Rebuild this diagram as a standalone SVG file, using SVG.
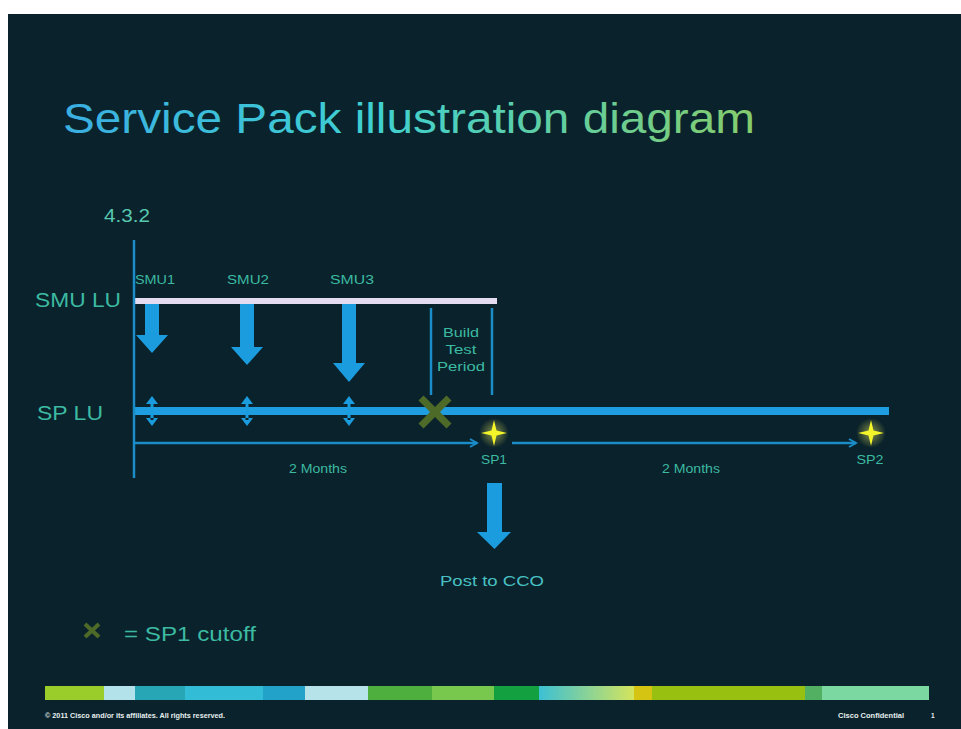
<svg xmlns="http://www.w3.org/2000/svg" width="961" height="729" viewBox="0 0 961 729">
  <defs>
    <linearGradient id="titleGrad" gradientUnits="userSpaceOnUse" x1="63" y1="0" x2="755" y2="0">
      <stop offset="0" stop-color="#3aaee2"/>
      <stop offset="0.45" stop-color="#3fd0d2"/>
      <stop offset="1" stop-color="#86cc6c"/>
    </linearGradient>
    <linearGradient id="barGrad" x1="0" y1="0" x2="1" y2="0">
      <stop offset="0" stop-color="#3cc0d4"/>
      <stop offset="1" stop-color="#d4e45c"/>
    </linearGradient>
    <radialGradient id="starGlow">
      <stop offset="0" stop-color="#ffff60" stop-opacity="0.5"/>
      <stop offset="1" stop-color="#ffff60" stop-opacity="0"/>
    </radialGradient>
    <marker id="chev" markerWidth="10" markerHeight="10" refX="8" refY="5" orient="auto" markerUnits="userSpaceOnUse">
      <path d="M1,1 L8,5 L1,9" fill="none" stroke="#1a8cc8" stroke-width="2"/>
    </marker>
  </defs>
  <style>
    .lbl { font-family: "Liberation Sans", Arial, sans-serif; fill: #3cbaa2; }
    .blue { fill: #1a9cde; }
    .thin { stroke: #1a8cc8; stroke-width: 2.5; fill: none; }
    .foot { font-family: "Liberation Sans", Arial, sans-serif; font-weight: bold; font-size: 6.5px; fill: #e8f0f0; }
    .xmark { stroke: #4e6a28; stroke-width: 7; stroke-linecap: butt; }
    .star { fill: #f4f42a; }
  </style>

  <rect x="0" y="0" width="961" height="729" fill="#ffffff"/>
  <rect x="8" y="14" width="953" height="715" fill="#0a222b"/>

  <g id="title">
    <text x="63" y="133" font-family="'Liberation Sans', Arial, sans-serif" font-size="43" fill="url(#titleGrad)" textLength="692" lengthAdjust="spacingAndGlyphs">Service Pack illustration diagram</text>
  </g>

  <g id="version">
    <text class="lbl" x="104" y="222" font-size="18" textLength="46" lengthAdjust="spacingAndGlyphs" style="fill:#58c8b0">4.3.2</text>
  </g>

  <g id="smu-lu">
    <text class="lbl" x="35" y="307" font-size="20" textLength="86" lengthAdjust="spacingAndGlyphs">SMU LU</text>
    <rect x="134" y="298" width="363" height="6" fill="#e6dcf2"/>
  </g>

  <g id="sp-lu">
    <text class="lbl" x="37" y="420" font-size="20" textLength="66" lengthAdjust="spacingAndGlyphs">SP LU</text>
    <rect x="134" y="407" width="755" height="8" fill="#1e9ee0"/>
  </g>

  <g id="smu1">
    <text class="lbl" x="135" y="284" font-size="12" textLength="40" lengthAdjust="spacingAndGlyphs">SMU1</text>
    <path class="blue" d="M145,304 H159 V335 H168 L152,353 L136,335 H145 Z"/>
    <path class="blue" d="M150.5,402 H153.5 V420 H150.5 Z M146,404 L152,396 L158,404 Z M146,418 L152,426 L158,418 Z"/>
  </g>
  <g id="smu2">
    <text class="lbl" x="227" y="284" font-size="12" textLength="42" lengthAdjust="spacingAndGlyphs">SMU2</text>
    <path class="blue" d="M240,304 H254 V347 H263 L247,365 L231,347 H240 Z"/>
    <path class="blue" d="M245.5,402 H248.5 V420 H245.5 Z M241,404 L247,396 L253,404 Z M241,418 L247,426 L253,418 Z"/>
  </g>
  <g id="smu3">
    <text class="lbl" x="330" y="284" font-size="12" textLength="44" lengthAdjust="spacingAndGlyphs">SMU3</text>
    <path class="blue" d="M342,304 H356 V363 H365 L349,382 L333,363 H342 Z"/>
    <path class="blue" d="M347.5,402 H350.5 V420 H347.5 Z M343,404 L349,396 L355,404 Z M343,418 L349,426 L355,418 Z"/>
  </g>

  <g id="build-test-period">
    <line x1="431" y1="308" x2="431" y2="395" stroke="#1a8cc8" stroke-width="2.5"/>
    <line x1="492" y1="308" x2="492" y2="395" stroke="#1a8cc8" stroke-width="2.5"/>
    <text class="lbl" x="461" y="337" font-size="13" text-anchor="middle" textLength="36" lengthAdjust="spacingAndGlyphs">Build</text>
    <text class="lbl" x="461" y="354" font-size="13" text-anchor="middle" textLength="31" lengthAdjust="spacingAndGlyphs">Test</text>
    <text class="lbl" x="461" y="371" font-size="13" text-anchor="middle" textLength="48" lengthAdjust="spacingAndGlyphs">Period</text>
  </g>

  <g id="sp1-cutoff">
    <line class="xmark" x1="421" y1="398" x2="449" y2="426"/>
    <line class="xmark" x1="449" y1="398" x2="421" y2="426"/>
  </g>

  <g id="sp1">
    <circle cx="494" cy="433" r="15" fill="url(#starGlow)"/>
    <path class="star" d="M494,420 L496.5,430.5 L507,433 L496.5,435.5 L494,446 L491.5,435.5 L481,433 L491.5,430.5 Z"/>
    <text class="lbl" x="494" y="464" font-size="12" text-anchor="middle" textLength="26" lengthAdjust="spacingAndGlyphs">SP1</text>
  </g>

  <g id="sp2">
    <circle cx="871" cy="433" r="15" fill="url(#starGlow)"/>
    <path class="star" d="M871,420 L873.5,430.5 L884,433 L873.5,435.5 L871,446 L868.5,435.5 L858,433 L868.5,430.5 Z"/>
    <text class="lbl" x="870" y="464" font-size="12" text-anchor="middle" textLength="27" lengthAdjust="spacingAndGlyphs">SP2</text>
  </g>

  <g id="post-to-cco">
    <path class="blue" d="M487,483 H502 V532 H511 L494.5,549 L477,532 H487 Z"/>
    <text class="lbl" x="440" y="586" font-size="15" textLength="104" lengthAdjust="spacingAndGlyphs" style="fill:#48c0c4">Post to CCO</text>
  </g>

  <g id="connectors">
    <line class="thin" x1="134" y1="240" x2="134" y2="478"/>
    <line class="thin" x1="134" y1="443" x2="477" y2="443" marker-end="url(#chev)"/>
    <line class="thin" x1="512" y1="443" x2="856" y2="443" marker-end="url(#chev)"/>
  </g>

  <g id="durations">
    <text class="lbl" x="318" y="473" font-size="12" text-anchor="middle" textLength="58" lengthAdjust="spacingAndGlyphs">2 Months</text>
    <text class="lbl" x="691" y="473" font-size="12" text-anchor="middle" textLength="58" lengthAdjust="spacingAndGlyphs">2 Months</text>
  </g>

  <g id="legend">
    <line x1="85" y1="624" x2="99" y2="637" stroke="#4e6a28" stroke-width="4"/>
    <line x1="99" y1="624" x2="85" y2="637" stroke="#4e6a28" stroke-width="4"/>
    <text class="lbl" x="124" y="641" font-size="20" textLength="132" lengthAdjust="spacingAndGlyphs">= SP1 cutoff</text>
  </g>

  <g id="color-bar">
    <rect x="45" y="686" width="59" height="14" fill="#9acd2a"/>
    <rect x="104" y="686" width="31" height="14" fill="#b4e2ea"/>
    <rect x="135" y="686" width="50" height="14" fill="#27a6b6"/>
    <rect x="185" y="686" width="78" height="14" fill="#32bcd6"/>
    <rect x="263" y="686" width="42" height="14" fill="#22a2c8"/>
    <rect x="305" y="686" width="63" height="14" fill="#b6e2ea"/>
    <rect x="368" y="686" width="64" height="14" fill="#4eae3e"/>
    <rect x="432" y="686" width="62" height="14" fill="#78c84e"/>
    <rect x="494" y="686" width="45" height="14" fill="#12a040"/>
    <rect x="539" y="686" width="95" height="14" fill="url(#barGrad)"/>
    <rect x="634" y="686" width="18" height="14" fill="#d6c412"/>
    <rect x="652" y="686" width="153" height="14" fill="#98c010"/>
    <rect x="805" y="686" width="17" height="14" fill="#52b062"/>
    <rect x="822" y="686" width="107" height="14" fill="#7ad8a0"/>
  </g>

  <g id="footer">
    <text class="foot" x="45" y="718" textLength="180" lengthAdjust="spacingAndGlyphs">© 2011 Cisco and/or its affiliates. All rights reserved.</text>
    <text class="foot" x="838" y="718" textLength="66" lengthAdjust="spacingAndGlyphs">Cisco Confidential</text>
    <text class="foot" x="931" y="718">1</text>
  </g>
</svg>
